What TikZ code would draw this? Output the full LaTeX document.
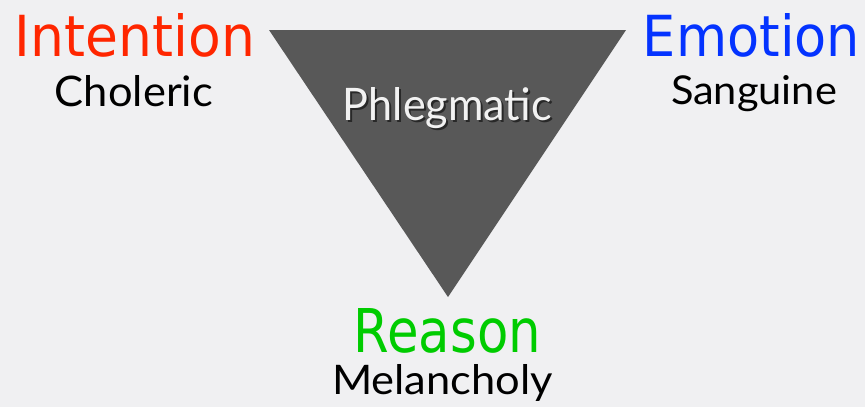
\documentclass[tikz,border=0pt]{standalone}
\usepackage{graphicx}
\usepackage{fontspec}
\setmainfont{Lato}
\newfontfamily\labelfont{DejaVu Sans}
\definecolor{bgcol}{RGB}{240,240,242}
\definecolor{tricol}{RGB}{88,88,88}
\definecolor{intcol}{RGB}{255,38,0}
\definecolor{emocol}{RGB}{4,51,255}
\definecolor{reacol}{RGB}{0,204,0}
\definecolor{phlcol}{RGB}{242,242,242}
\definecolor{shadcol}{RGB}{40,40,40}
\tikzset{
  txt/.style={inner sep=0pt, outer sep=0pt, anchor=base},
}
\newcommand{\fitword}[3]{\resizebox{#1pt}{#2pt}{#3}}
\begin{document}
\begin{tikzpicture}[x=1pt,y=-1pt]
\fill[bgcol] (0,0) rectangle (865,407);
\useasboundingbox (0,0) rectangle (865,407);
% triangle
\coordinate (tl) at (269,30);
\coordinate (tr) at (626,30);
\coordinate (bt) at (448,297);
\fill[tricol] (tl) -- (tr) -- (bt) -- cycle;
% labels
\node[txt, text=intcol] (intention) at (135,56) {\labelfont\fitword{240}{43}{Intention}};
\node[txt, text=black] (choleric) at (134,106) {\fitword{158}{31}{Choleric}};
\node[txt, text=emocol] (emotion) at (751.5,56) {\labelfont\fitword{217}{43}{Emotion}};
\node[txt, text=black] (sanguine) at (754,104) {\fitword{166}{29}{Sanguine}};
\node[txt, text=phlcol] (phlegmatic) at (447.5,120)
  {\rlap{\hspace{2pt}\raisebox{-2pt}{\textcolor{shadcol}{\fitword{209}{33}{Phlegmatic}}}}\fitword{209}{33}{Phlegmatic}};
\node[txt, text=reacol] (reason) at (447.5,352) {\labelfont\fitword{187}{44}{Reason}};
\node[txt, text=black] (melancholy) at (442.5,394) {\fitword{221}{30}{Melancholy}};
\end{tikzpicture}
\end{document}
